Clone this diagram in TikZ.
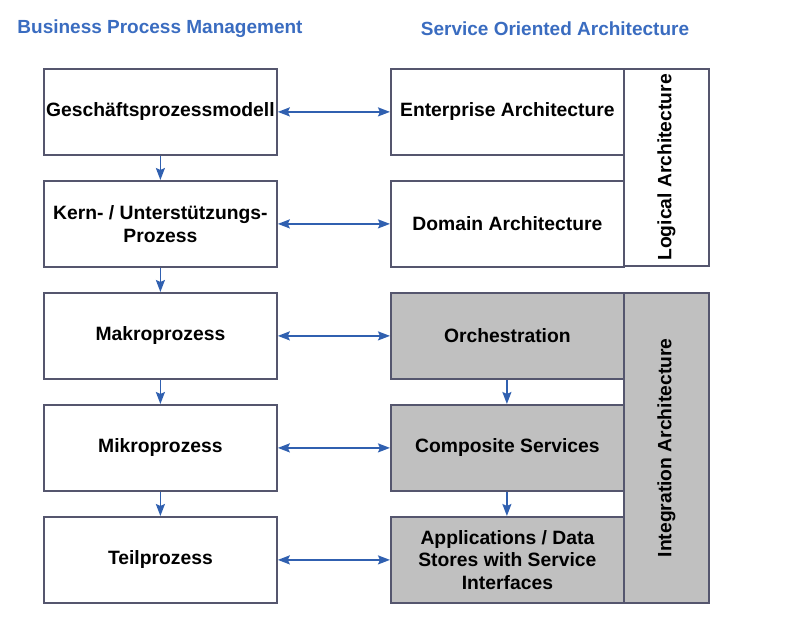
\documentclass[tikz,border=0pt]{standalone}
\usepackage{fontspec}
\setmainfont{Liberation Sans}
\usetikzlibrary{arrows.meta}
\definecolor{hdr}{HTML}{3A6CC0}
\definecolor{bord}{HTML}{55566E}
\definecolor{arr}{HTML}{3060B0}
\definecolor{grayfill}{HTML}{C0C0C0}
\tikzset{
  lbl/.style={font=\fontsize{19.3}{22.7}\selectfont\bfseries},
  box/.style={lbl, draw=bord, line width=1.8pt, minimum width=233pt, minimum height=86pt, inner sep=2pt, align=center, anchor=north west},
  gbox/.style={box, fill=grayfill},
  side/.style={draw=bord, line width=1.8pt, minimum width=85pt, anchor=north west},
  hdrtext/.style={text=hdr, font=\fontsize{19}{22}\selectfont\bfseries},
  tip/.style={Stealth[length=12pt,width=9pt,inset=2pt]},
  conn/.style={draw=arr, line width=1.8pt, -{Stealth[length=12pt,width=9pt,inset=2pt]}},
  dconn/.style={draw=arr, line width=1.8pt, {Stealth[length=12pt,width=9pt,inset=2pt]}-{Stealth[length=12pt,width=9pt,inset=2pt]}}
}
\begin{document}
\begin{tikzpicture}[x=1pt,y=-1pt]
\useasboundingbox (0,0) rectangle (807,621);
\node[hdrtext] (h1) at (160,29) {Business Process Management};
\node[hdrtext] (h2) at (555,29) {Service Oriented Architecture};
% side panels
\node[side, minimum height=197pt] (logic) at (623,68) {};
\node[lbl, rotate=90] (logict) at (logic.center) {Logical Architecture};
\node[side, fill=grayfill, minimum height=310pt] (integ) at (623,292) {};
\node[lbl, rotate=90] (integt) at (integ.center) {Integration Architecture};
% left column
\node[box] (l1) at (43,68) {Geschäftsprozessmodell};
\node[box] (l2) at (43,180) {Kern- / Unterstützungs-\\Prozess};
\node[box] (l3) at (43,292) {Makroprozess};
\node[box] (l4) at (43,404) {Mikroprozess};
\node[box] (l5) at (43,516) {Teilprozess};
% right column
\node[box] (r1) at (390,68) {Enterprise Architecture};
\node[box] (r2) at (390,180) {Domain Architecture};
\node[gbox] (r3) at (390,292) {Orchestration};
\node[gbox] (r4) at (390,404) {Composite Services};
\node[gbox] (r5) at (390,516) {Applications / Data\\Stores with Service\\Interfaces};
% vertical arrows
\draw[conn] (l1.south) -- (l2.north);
\draw[conn] (l2.south) -- (l3.north);
\draw[conn] (l3.south) -- (l4.north);
\draw[conn] (l4.south) -- (l5.north);
\draw[conn] ([xshift=-0.5pt]r3.south) -- ([xshift=-0.5pt]r4.north);
\draw[conn] ([xshift=-0.5pt]r4.south) -- ([xshift=-0.5pt]r5.north);
% horizontal arrows
\foreach \i in {1,...,5} {
  \draw[dconn] (l\i.east) -- (r\i.west);
}
\end{tikzpicture}
\end{document}
